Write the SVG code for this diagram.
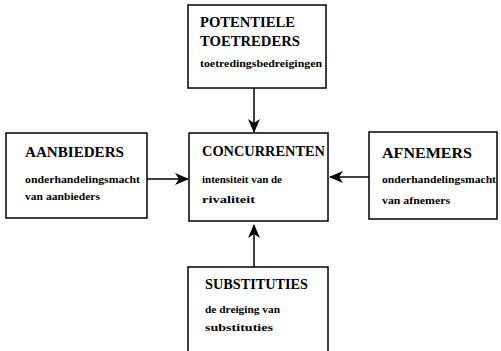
<svg xmlns="http://www.w3.org/2000/svg" width="501" height="351" viewBox="0 0 501 351">
<style>
.box{fill:#fff;stroke:#000;stroke-width:1.5}
.h{font-weight:bold;font-size:14px;fill:#000}
.s{font-weight:bold;font-size:11px;fill:#000}
.c{stroke:#000;stroke-width:1.5;fill:none}
</style>
<defs>
<marker id="ah" viewBox="0 0 14 12" refX="13" refY="6" markerWidth="14" markerHeight="12" markerUnits="userSpaceOnUse" orient="auto">
<path d="M0,0 L14,6 L0,12 L4,6 Z" fill="#000"/>
</marker>
</defs>
<rect width="501" height="351" fill="#fff"/>
<g id="connectors">
<line class="c" x1="254" y1="88" x2="254" y2="132" marker-end="url(#ah)"/>
<line class="c" x1="147" y1="179" x2="188" y2="179" marker-end="url(#ah)"/>
<line class="c" x1="369" y1="177" x2="330" y2="177" marker-end="url(#ah)"/>
<line class="c" x1="254" y1="267" x2="254" y2="225" marker-end="url(#ah)"/>
</g>
<g font-family="Liberation Serif, Times New Roman, serif">
<g id="potentiele">
<rect class="box" x="188" y="5" width="138" height="83"/>
<text class="h" x="200" y="27" textLength="95" lengthAdjust="spacingAndGlyphs">POTENTIELE</text>
<text class="h" x="200" y="46" textLength="100" lengthAdjust="spacingAndGlyphs">TOETREDERS</text>
<text class="s" x="200" y="67" textLength="122" lengthAdjust="spacingAndGlyphs">toetredingsbedreigingen</text>
</g>
<g id="aanbieders">
<rect class="box" x="6" y="133" width="141" height="85"/>
<text class="h" x="25" y="157" textLength="99" lengthAdjust="spacingAndGlyphs">AANBIEDERS</text>
<text class="s" x="25" y="183" textLength="115" lengthAdjust="spacingAndGlyphs">onderhandelingsmacht</text>
<text class="s" x="25" y="200" textLength="75" lengthAdjust="spacingAndGlyphs">van aanbieders</text>
</g>
<g id="concurrenten">
<rect class="box" x="189" y="133" width="139" height="88"/>
<text class="h" x="202" y="156" textLength="123" lengthAdjust="spacingAndGlyphs">CONCURRENTEN</text>
<text class="s" x="202" y="183" textLength="80" lengthAdjust="spacingAndGlyphs">intensiteit van de</text>
<text class="s" x="202" y="203" textLength="53" lengthAdjust="spacingAndGlyphs">rivaliteit</text>
</g>
<g id="afnemers">
<rect class="box" x="369" y="132" width="128" height="87"/>
<text class="h" x="382" y="158" textLength="90" lengthAdjust="spacingAndGlyphs">AFNEMERS</text>
<text class="s" x="382" y="183" textLength="114" lengthAdjust="spacingAndGlyphs">onderhandelingsmacht</text>
<text class="s" x="382" y="204" textLength="68" lengthAdjust="spacingAndGlyphs">van afnemers</text>
</g>
<g id="substituties">
<rect class="box" x="188" y="267" width="140" height="92"/>
<text class="h" x="205" y="289" textLength="103" lengthAdjust="spacingAndGlyphs">SUBSTITUTIES</text>
<text class="s" x="205" y="313" textLength="75" lengthAdjust="spacingAndGlyphs">de dreiging van</text>
<text class="s" x="205" y="331" textLength="68" lengthAdjust="spacingAndGlyphs">substituties</text>
</g>
</g>
</svg>
